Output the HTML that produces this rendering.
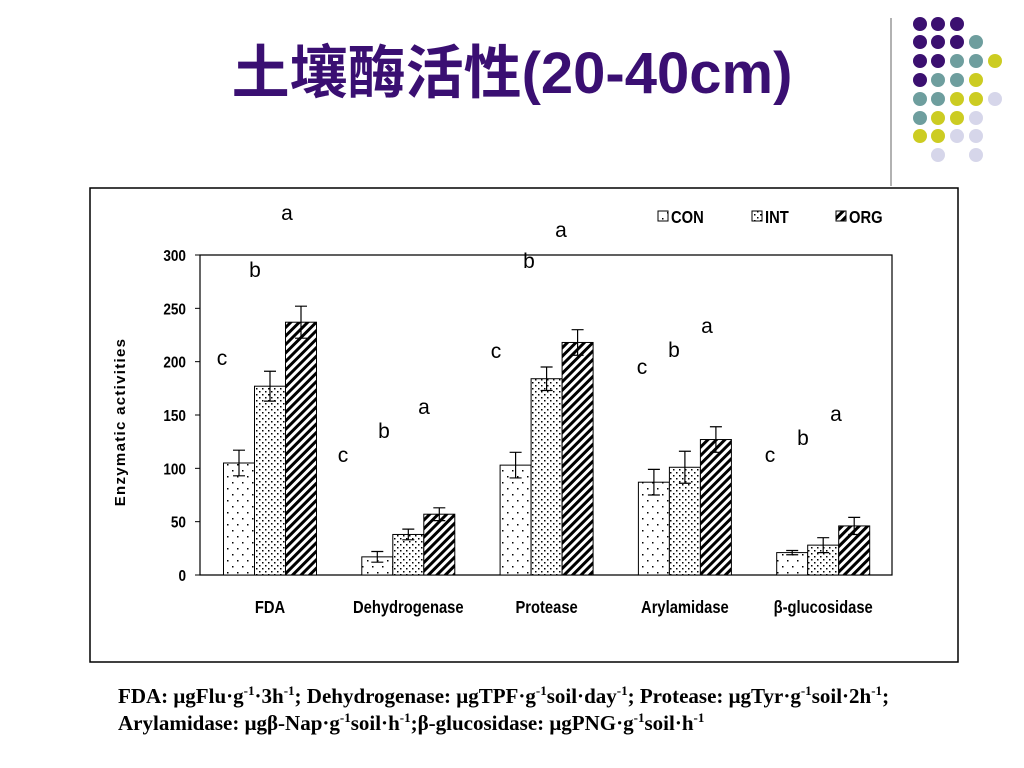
<!DOCTYPE html>
<html><head><meta charset="utf-8"><style>
body{margin:0;background:#fff;}
#wrap{position:relative;width:1024px;height:768px;overflow:hidden;font-family:"Liberation Sans","Noto Sans CJK SC",sans-serif;}
#title{position:absolute;left:0;width:1024px;top:26px;text-align:center;font-size:58px;font-weight:bold;color:#3a0f72;font-family:"Liberation Sans","Noto Sans CJK SC",sans-serif;white-space:nowrap;}
.foot{position:absolute;left:118px;font-family:"Liberation Serif",serif;font-weight:bold;font-size:21px;color:#000;white-space:nowrap;}
.foot sup{font-size:13px;}
</style></head><body>
<div id="wrap">
<div id="title">土壤酶活性(20-40cm)</div>
<svg id="deco" width="1024" height="200" style="position:absolute;left:0;top:0"></svg>
<svg id="chart" width="1024" height="768" style="position:absolute;left:0;top:0">
<defs>
<pattern id="pCon" width="10" height="12" patternUnits="userSpaceOnUse"><rect width="10" height="12" fill="#fff"/><rect x="2" y="2" width="1.5" height="1.5" fill="#000"/><rect x="7" y="8" width="1.5" height="1.5" fill="#000"/></pattern>
<pattern id="pInt" width="6" height="6" patternUnits="userSpaceOnUse"><rect width="6" height="6" fill="#fff"/><rect x="1" y="1" width="1.5" height="1.5" fill="#000"/><rect x="4" y="4" width="1.5" height="1.5" fill="#000"/></pattern>
<pattern id="pOrg" width="6" height="6" patternUnits="userSpaceOnUse" patternTransform="rotate(45)"><rect width="6" height="6" fill="#fff"/><rect width="3" height="6" fill="#000"/></pattern>
</defs>
<rect x="90" y="188" width="868" height="474" fill="none" stroke="#000" stroke-width="1.5"/>
</svg>
<div class="foot" style="top:683px">FDA: μgFlu·g<sup>-1</sup>·3h<sup>-1</sup>; Dehydrogenase: μgTPF·g<sup>-1</sup>soil·day<sup>-1</sup>; Protease: μgTyr·g<sup>-1</sup>soil·2h<sup>-1</sup>;</div>
<div class="foot" style="top:710px">Arylamidase: μgβ-Nap·g<sup>-1</sup>soil·h<sup>-1</sup>;β-glucosidase: μgPNG·g<sup>-1</sup>soil·h<sup>-1</sup></div>
</div>
<script>
const categories=["FDA","Dehydrogenase","Protease","Arylamidase","β-glucosidase"];
const seriesNames=["CON","INT","ORG"];
const conVals=[105,17,103,87,21];
const intVals=[177,38,184,101,28];
const orgVals=[237,57,218,127,46];
const conErr=[12,5,12,12,2];
const intErr=[14,5,11,15,7];
const orgErr=[15,6,12,12,8];
const yTicks=[0,50,100,150,200,250,300];
const sigLetters=[["c","b","a"],["c","b","a"],["c","b","a"],["c","b","a"],["c","b","a"]];
const NS="http://www.w3.org/2000/svg";
const svg=document.getElementById('chart');
const X0=200,X1=892,Y0=575,Y1=255;
const y=v=>Y0-(v/300)*(Y0-Y1);
const gc=i=>270+i*138.3;
const BW=31;
function mk(t,a,p){const e=document.createElementNS(NS,t);for(const k in a)e.setAttribute(k,a[k]);(p||svg).appendChild(e);return e;}
let ax=mk('path',{d:`M${X0},${Y1}H${X1}V${Y0}H${X0}Z`,fill:'none',stroke:'#000','stroke-width':1.2});


yTicks.forEach(t=>{
  let l=mk('line',{x1:X0-5,x2:X0,y1:y(t),y2:y(t),stroke:'#000'});
  
  
  let tx=mk('text',{x:X0-14,y:y(t)+6,'text-anchor':'end','font-size':16,'font-weight':'bold','font-family':'Liberation Sans,sans-serif'});
  tx.setAttribute('transform',`translate(${(X0-14)*0.15},0) scale(0.85,1)`);
  tx.textContent=t;
  
  
});
let yt=mk('text',{x:0,y:0,transform:`translate(125,422) rotate(-90)`,'text-anchor':'middle','font-size':15,'font-weight':'bold','font-family':'Liberation Sans,sans-serif','letter-spacing':'1.3'});
yt.textContent='Enzymatic activities';


const series=[conVals,intVals,orgVals],errs=[conErr,intErr,orgErr],pats=['url(#pCon)','url(#pInt)','url(#pOrg)'];
categories.forEach((c,i)=>{
  const cx=gc(i);
  series.forEach((s,j)=>{
    const bx=cx-1.5*BW+j*BW;
    let r=mk('rect',{x:bx,y:y(s[i]),width:BW,height:Y0-y(s[i]),fill:pats[j],stroke:'#000','stroke-width':1});
    
    
    const mx=bx+BW/2,top=y(s[i]+errs[j][i]),bot=y(s[i]-errs[j][i]);
    let eb=mk('path',{d:`M${mx},${top}V${bot}M${mx-6},${top}H${mx+6}M${mx-6},${bot}H${mx+6}`,stroke:'#000','stroke-width':1.2,fill:'none'});
    
    
  });
  let lb=mk('text',{x:cx,y:613,'text-anchor':'middle','font-size':18,'font-weight':'bold','font-family':'Liberation Sans,sans-serif'});
  lb.setAttribute('transform',`translate(${cx*0.18},0) scale(0.82,1)`);
  lb.textContent=c;
  
  
});
const letterPos=[[[222,365],[255,277],[287,220]],[[343,462],[384,438],[424,414]],[[496,358],[529,268],[561,237]],[[642,374],[674,357],[707,333]],[[770,462],[803,445],[836,421]]];
letterPos.forEach((g,i)=>g.forEach((p,j)=>{
  let t=mk('text',{x:p[0],y:p[1],'text-anchor':'middle','font-size':21,'font-family':'Liberation Sans,sans-serif'});
  t.textContent=sigLetters[i][j];
  
  
}));
const legX=[658,752,836];
seriesNames.forEach((n,j)=>{
  let r=mk('rect',{x:legX[j],y:211,width:10,height:10,fill:pats[j],stroke:'#000'});
  
  
  let t=mk('text',{x:legX[j]+13,y:223,'font-size':18,'font-weight':'bold','font-family':'Liberation Sans,sans-serif'});
  t.setAttribute('transform',`translate(${(legX[j]+13)*0.18},0) scale(0.82,1)`);
  t.textContent=n;
  
  
});
const deco=document.getElementById('deco');
const P='#3b1070',T='#6e9e9e',Yc='#cccc22',L='#d6d6ea';
const rows=[[P,P,P],[P,P,P,T],[P,P,T,T,Yc],[P,T,T,Yc],[T,T,Yc,Yc,L],[T,Yc,Yc,L],[Yc,Yc,L,L],[null,L,null,L]];
const ry=[24,42,61,80,99,118,136,155],rx=[920,938,957,976,995];
rows.forEach((r,i)=>r.forEach((c,k)=>{if(!c)return;
  let d=mk('circle',{cx:rx[k],cy:ry[i],r:7,fill:c},deco);
  
  
}));
let vl=mk('line',{x1:891,x2:891,y1:18,y2:186,stroke:'#999','stroke-width':1.5},deco);


</script>
</body></html>
